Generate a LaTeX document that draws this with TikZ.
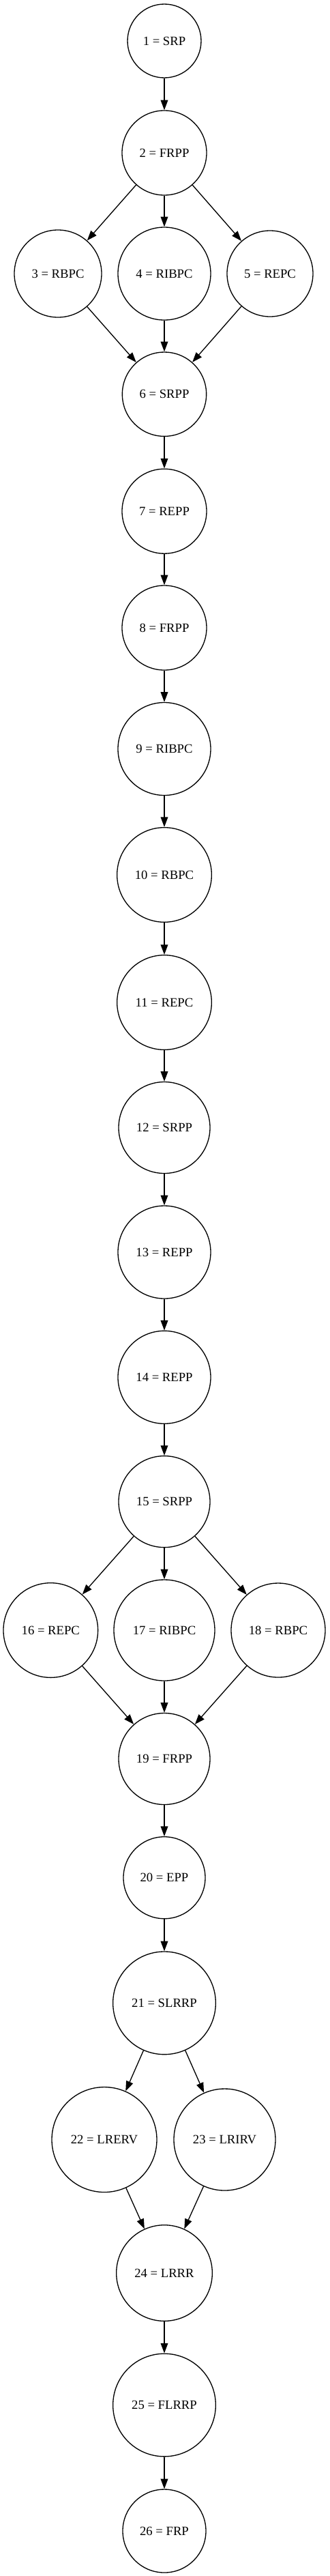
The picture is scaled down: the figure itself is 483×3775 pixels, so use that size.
\documentclass[tikz,border=0pt]{standalone}
\usepackage{fontspec}
\setmainfont{Liberation Serif}
\usetikzlibrary{arrows.meta}
\tikzset{
  gnode/.style={draw=black, circle, line width=1pt, inner sep=0pt, fill=white,
    font=\fontsize{14pt}{16.8pt}\selectfont},
  gedge/.style={draw=black, line width=1pt, -{Triangle[length=11pt,width=8pt]}}
}
\begin{document}
\begin{tikzpicture}[x=0.75pt,y=-0.75pt]
\useasboundingbox[fill=white] (0,0) rectangle (483,3775);
\node[gnode, minimum size=81pt]     (n1)  at (241,60)     {1 = SRP};
\node[gnode, minimum size=93pt]     (n2)  at (241,224)    {2 = FRPP};
\node[gnode, minimum size=96pt]     (n3)  at (85,401)     {3 = RBPC};
\node[gnode, minimum size=102pt]    (n4)  at (241,401)    {4 = RIBPC};
\node[gnode, minimum size=94.5pt]   (n5)  at (396,401)    {5 = REPC};
\node[gnode, minimum size=92.5pt]   (n6)  at (241,577.7)  {6 = SRPP};
\node[gnode, minimum size=93pt]     (n7)  at (241,749.2)  {7 = REPP};
\node[gnode, minimum size=93pt]     (n8)  at (241,920)    {8 = FRPP};
\node[gnode, minimum size=102pt]    (n9)  at (241,1097.5) {9 = RIBPC};
\node[gnode, minimum size=104pt]    (n10) at (241,1282)   {10 = RBPC};
\node[gnode, minimum size=104pt]    (n11) at (241,1469)   {11 = REPC};
\node[gnode, minimum size=100.5pt]  (n12) at (241,1652.5) {12 = SRPP};
\node[gnode, minimum size=102pt]    (n13) at (241,1835)   {13 = REPP};
\node[gnode, minimum size=102pt]    (n14) at (241,2018.3) {14 = REPP};
\node[gnode, minimum size=100.5pt]  (n15) at (241,2200.6) {15 = SRPP};
\node[gnode, minimum size=104pt]    (n16) at (74.3,2389)  {16 = REPC};
\node[gnode, minimum size=111pt]    (n17) at (241,2389)   {17 = RIBPC};
\node[gnode, minimum size=103.5pt]  (n18) at (408,2389)   {18 = RBPC};
\node[gnode, minimum size=100.5pt]  (n19) at (241,2577.5) {19 = FRPP};
\node[gnode, minimum size=90pt]     (n20) at (241,2751.7) {20 = EPP};
\node[gnode, minimum size=113pt]    (n21) at (241,2935.3) {21 = SLRRP};
\node[gnode, minimum size=115.5pt]  (n22) at (153,3135.5) {22 = LRERV};
\node[gnode, minimum size=111.75pt] (n23) at (329.5,3135.5) {23 = LRIRV};
\node[gnode, minimum size=105.5pt]  (n24) at (241,3331)   {24 = LRRR};
\node[gnode, minimum size=113pt]    (n25) at (241,3524.5) {25 = FLRRP};
\node[gnode, minimum size=91.5pt]   (n26) at (241,3709)   {26 = FRP};
\draw[gedge] (n1) -- (n2);
\draw[gedge] (n2) -- (n3);
\draw[gedge] (n2) -- (n4);
\draw[gedge] (n2) -- (n5);
\draw[gedge] (n3) -- (n6);
\draw[gedge] (n4) -- (n6);
\draw[gedge] (n5) -- (n6);
\draw[gedge] (n6) -- (n7);
\draw[gedge] (n7) -- (n8);
\draw[gedge] (n8) -- (n9);
\draw[gedge] (n9) -- (n10);
\draw[gedge] (n10) -- (n11);
\draw[gedge] (n11) -- (n12);
\draw[gedge] (n12) -- (n13);
\draw[gedge] (n13) -- (n14);
\draw[gedge] (n14) -- (n15);
\draw[gedge] (n15) -- (n16);
\draw[gedge] (n15) -- (n17);
\draw[gedge] (n15) -- (n18);
\draw[gedge] (n16) -- (n19);
\draw[gedge] (n17) -- (n19);
\draw[gedge] (n18) -- (n19);
\draw[gedge] (n19) -- (n20);
\draw[gedge] (n20) -- (n21);
\draw[gedge] (n21) -- (n22);
\draw[gedge] (n21) -- (n23);
\draw[gedge] (n22) -- (n24);
\draw[gedge] (n23) -- (n24);
\draw[gedge] (n24) -- (n25);
\draw[gedge] (n25) -- (n26);
\end{tikzpicture}
\end{document}
